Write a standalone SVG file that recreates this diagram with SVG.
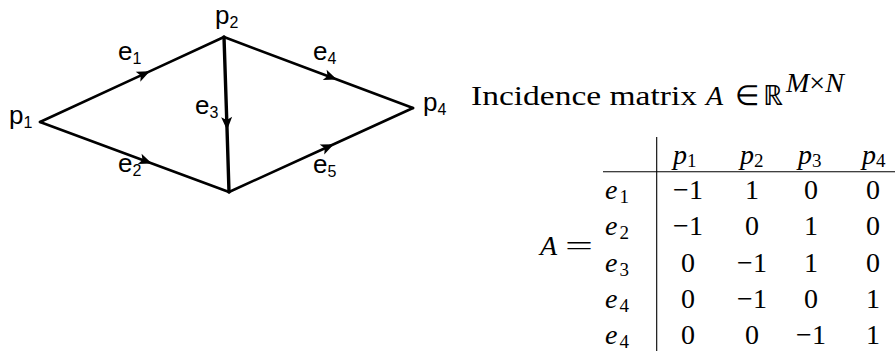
<svg xmlns="http://www.w3.org/2000/svg" width="895" height="354" viewBox="0 0 895 354">
<defs>
<marker id="arr" markerUnits="userSpaceOnUse" orient="auto" markerWidth="24" markerHeight="24" viewBox="-12 -12 24 24" refX="0" refY="0" overflow="visible">
<path d="M2,0 L-11,-5.5 L-8,0 L-11,5.5 Z" fill="#000"/>
</marker>
</defs>
<style>
.edge{fill:none;stroke:#000;stroke-width:2.6;stroke-linejoin:round;stroke-linecap:round;marker-mid:url(#arr)}
.lbl{font-family:"Liberation Sans",Arial,sans-serif;font-size:26px;fill:#000}
.sub{font-size:16px}
.tex{font-family:"Liberation Serif","Times New Roman",serif;font-size:28px;fill:#000}
.it{font-style:italic}
.ssub{font-size:19px}
.rule{stroke:#000;stroke-width:1.1}
</style>
<rect width="895" height="354" fill="#fff"/>
<g id="connectors">
<path id="e1" class="edge" d="M40,122 L148,72.1 L224,37"/>
<path id="e2" class="edge" d="M40,122 L150,162.7 L229,192"/>
<path id="e3" class="edge" d="M224,37 L227,128 L229,192" style="stroke-width:3.4"/>
<path id="e4" class="edge" d="M224,37 L335,78.7 L413,108"/>
<path id="e5" class="edge" d="M229,192 L332,145 L413,108"/>
</g>
<g id="node-p1"><text class="lbl" x="9" y="124">p<tspan class="sub" dy="4">1</tspan></text></g>
<g id="node-p2"><text class="lbl" x="215" y="24">p<tspan class="sub" dy="4">2</tspan></text></g>
<g id="node-p4"><text class="lbl" x="423" y="111">p<tspan class="sub" dy="4">4</tspan></text></g>
<g id="label-e1"><text class="lbl" x="118" y="60">e<tspan class="sub" dy="4">1</tspan></text></g>
<g id="label-e2"><text class="lbl" x="118" y="172">e<tspan class="sub" dy="4">2</tspan></text></g>
<g id="label-e3"><text class="lbl" x="195" y="114">e<tspan class="sub" dy="4">3</tspan></text></g>
<g id="label-e4"><text class="lbl" x="313" y="60">e<tspan class="sub" dy="4">4</tspan></text></g>
<g id="label-e5"><text class="lbl" x="313" y="173">e<tspan class="sub" dy="4">5</tspan></text></g>
<g id="title">
<text class="tex" x="471" y="105" textLength="226" lengthAdjust="spacingAndGlyphs">Incidence matrix</text>
<text class="tex it" x="706" y="105">A</text>
<text class="tex" x="735" y="105">∈</text>
<text class="tex" x="763" y="105" font-family="DejaVu Serif">ℝ</text>
<text class="tex" x="786" y="92" font-size="17"><tspan class="it">M</tspan>×<tspan class="it">N</tspan></text>
</g>
<g id="matrix">
<text class="tex it" x="540" y="255" font-size="30">A</text>
<text class="tex" x="565" y="255" font-size="30" textLength="28" lengthAdjust="spacingAndGlyphs">=</text>
<line class="rule" x1="656.7" y1="137" x2="656.7" y2="351"/>
<line class="rule" x1="603" y1="171.7" x2="895" y2="171.7"/>
<g text-anchor="start">
<text class="tex" x="673" y="164"><tspan class="it">p</tspan><tspan class="ssub" dy="3">1</tspan></text>
<text class="tex" x="740" y="164"><tspan class="it">p</tspan><tspan class="ssub" dy="3">2</tspan></text>
<text class="tex" x="798" y="164"><tspan class="it">p</tspan><tspan class="ssub" dy="3">3</tspan></text>
<text class="tex" x="862" y="164"><tspan class="it">p</tspan><tspan class="ssub" dy="3">4</tspan></text>
<text class="tex" x="605" y="199"><tspan class="it">e</tspan><tspan class="ssub" dx="2" dy="4">1</tspan></text>
<text class="tex" x="605" y="235"><tspan class="it">e</tspan><tspan class="ssub" dx="2" dy="4">2</tspan></text>
<text class="tex" x="605" y="271.5"><tspan class="it">e</tspan><tspan class="ssub" dx="2" dy="4">3</tspan></text>
<text class="tex" x="605" y="307.5"><tspan class="it">e</tspan><tspan class="ssub" dx="2" dy="4">4</tspan></text>
<text class="tex" x="605" y="344"><tspan class="it">e</tspan><tspan class="ssub" dx="2" dy="4">4</tspan></text>
</g>
<g text-anchor="middle">
<text class="tex" x="688" y="199">−1</text><text class="tex" x="752" y="199">1</text><text class="tex" x="811" y="199">0</text><text class="tex" x="873" y="199">0</text>
<text class="tex" x="688" y="235">−1</text><text class="tex" x="752" y="235">0</text><text class="tex" x="811" y="235">1</text><text class="tex" x="873" y="235">0</text>
<text class="tex" x="688" y="271.5">0</text><text class="tex" x="752" y="271.5">−1</text><text class="tex" x="811" y="271.5">1</text><text class="tex" x="873" y="271.5">0</text>
<text class="tex" x="688" y="307.5">0</text><text class="tex" x="752" y="307.5">−1</text><text class="tex" x="811" y="307.5">0</text><text class="tex" x="873" y="307.5">1</text>
<text class="tex" x="688" y="344">0</text><text class="tex" x="752" y="344">0</text><text class="tex" x="811" y="344">−1</text><text class="tex" x="873" y="344">1</text>
</g>
</g>
</svg>
